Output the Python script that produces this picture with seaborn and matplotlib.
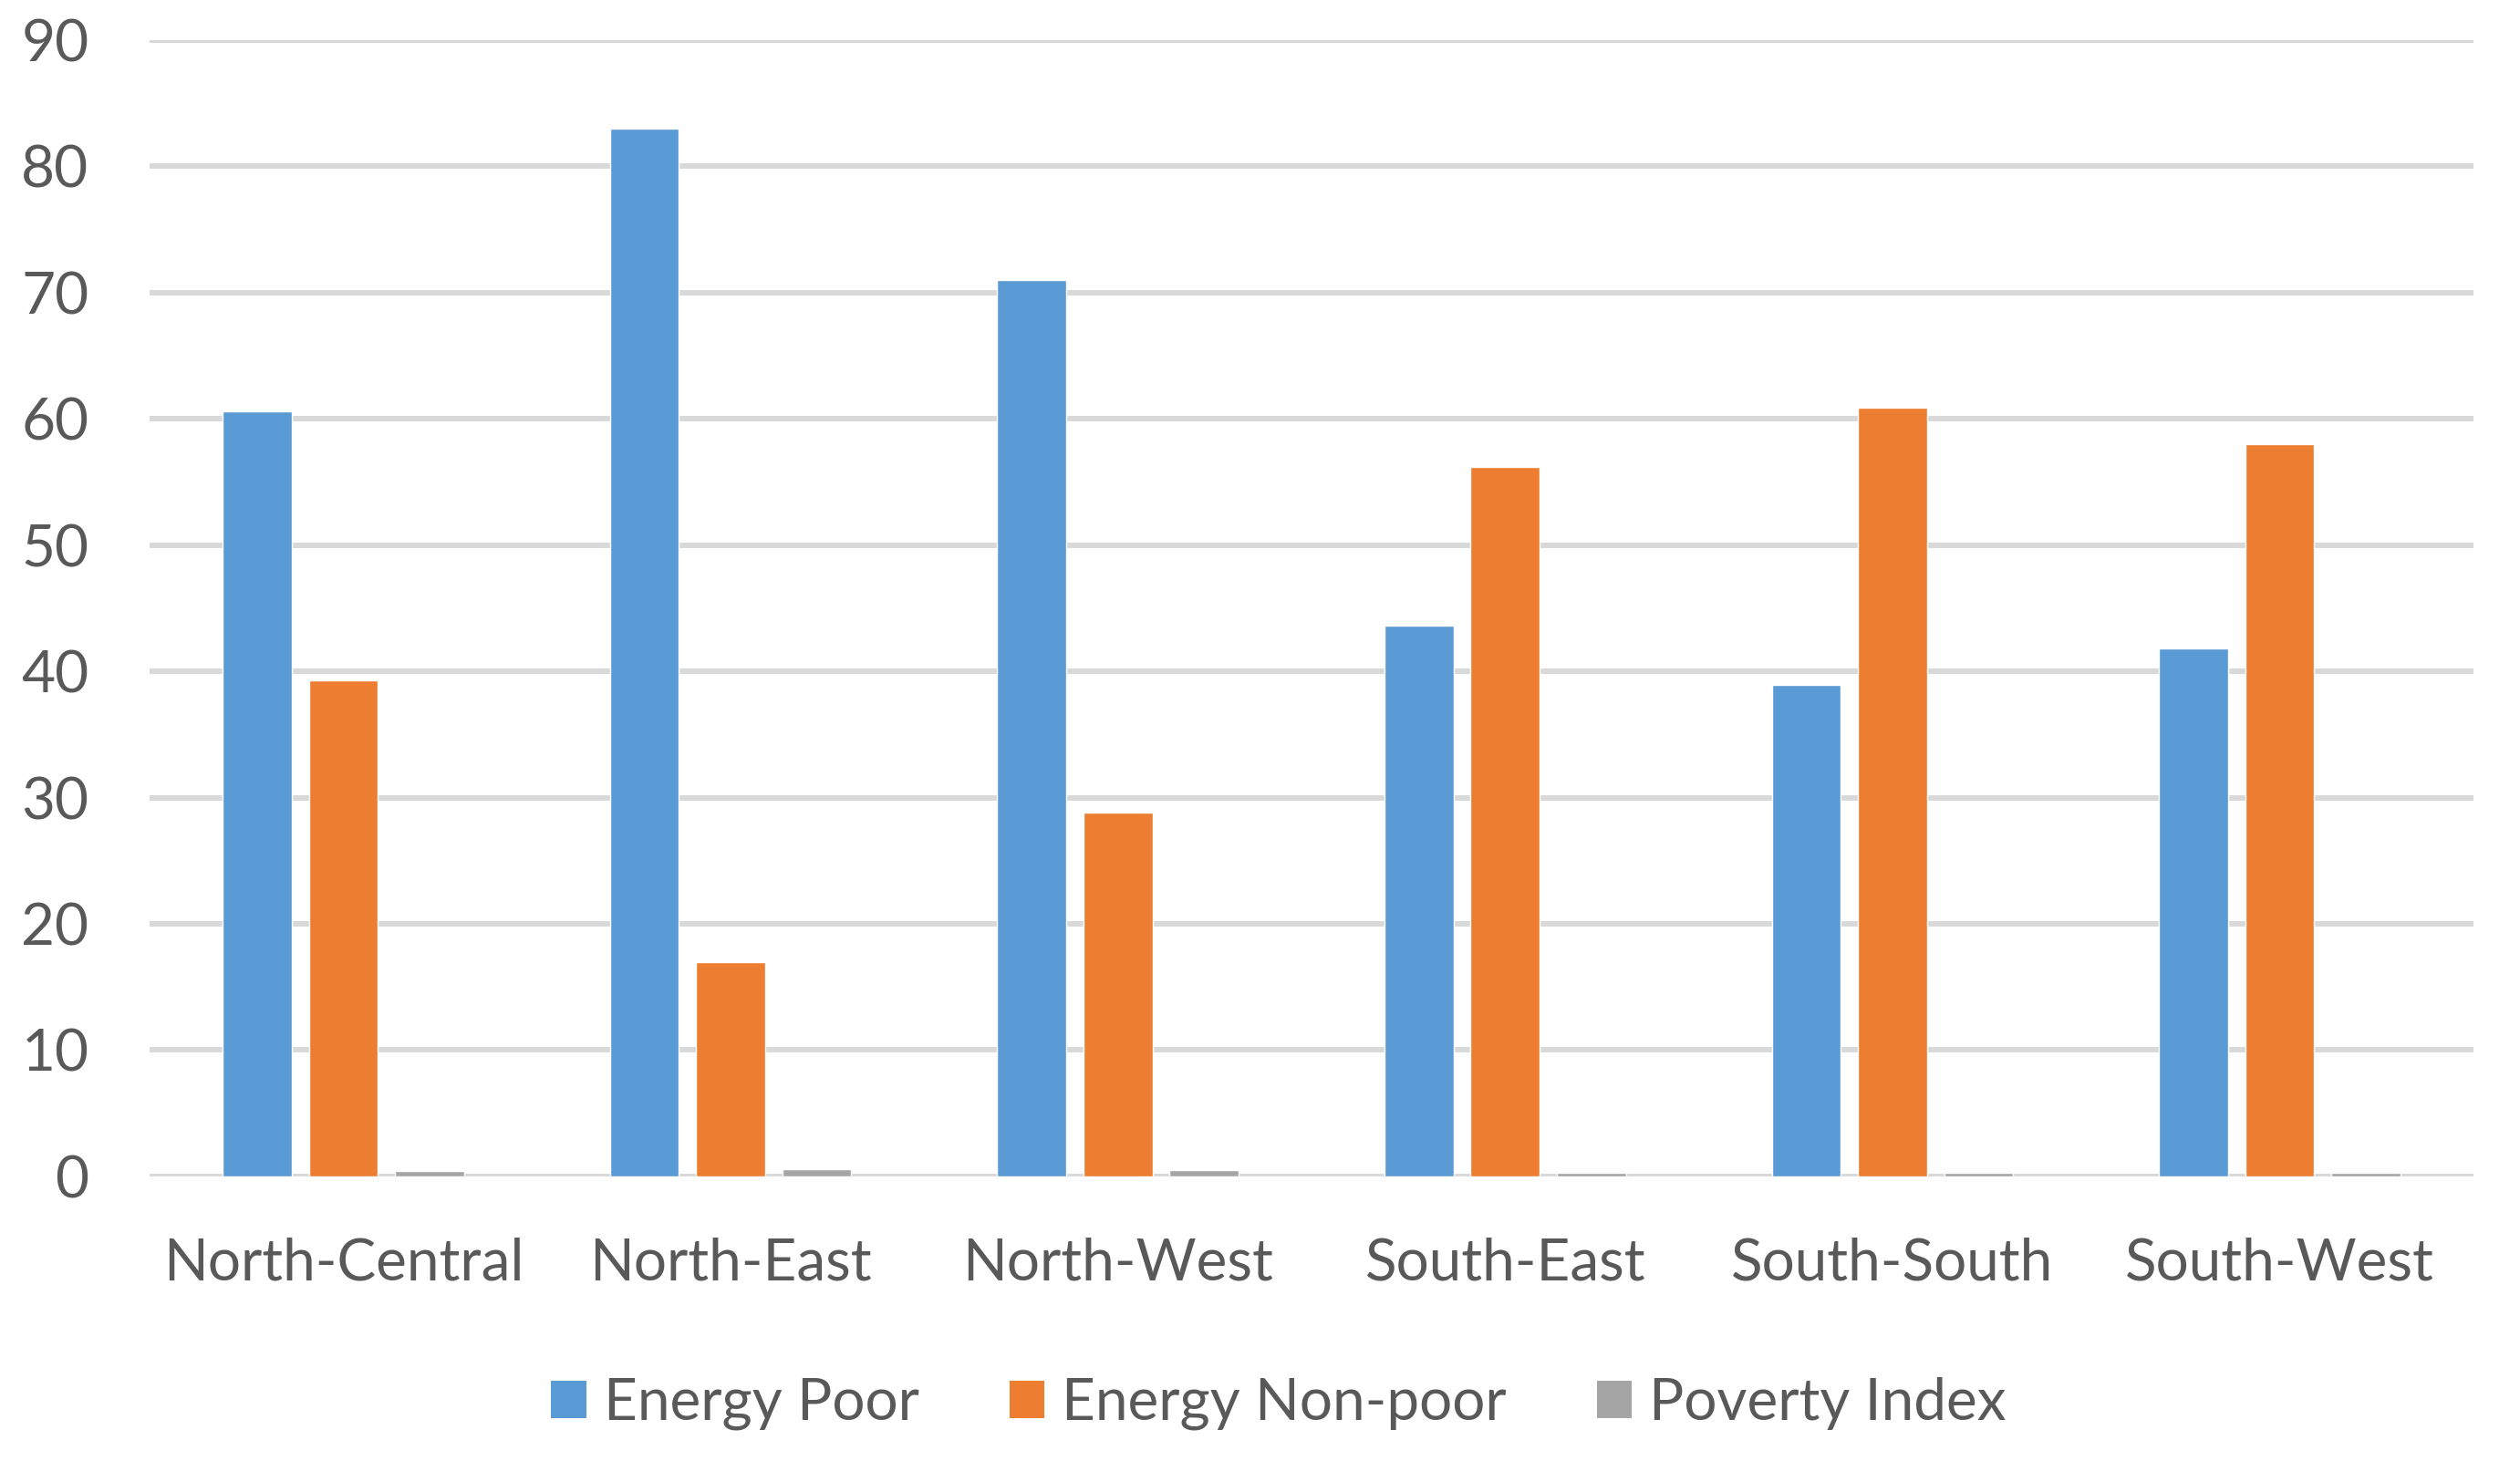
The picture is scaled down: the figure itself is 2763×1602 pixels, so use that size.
import matplotlib
matplotlib.use("Agg")
import matplotlib.pyplot as plt
import seaborn as sns
import pandas as pd
from matplotlib.patches import Patch

regions = ["North-Central", "North-East", "North-West", "South-East", "South-South", "South-West"]
energy_poor = [60.6, 83.0, 71.0, 43.6, 38.9, 41.8]
energy_non_poor = [39.3, 17.0, 28.8, 56.2, 60.9, 58.0]
poverty_index = [0.4, 0.6, 0.5, 0.3, 0.25, 0.3]
series_names = ["Energy Poor", "Energy Non-poor", "Poverty Index"]
colors = ["#5B9BD5", "#ED7D31", "#A5A5A5"]
yticks = [0, 10, 20, 30, 40, 50, 60, 70, 80, 90]

rows = []
for name, vals in zip(series_names, [energy_poor, energy_non_poor, poverty_index]):
    for r, v in zip(regions, vals):
        rows.append({"Region": r, "Series": name, "Value": v})
df = pd.DataFrame(rows)

sns.set_theme(style="white")
plt.rcParams['font.family'] = ['Lato', 'DejaVu Sans']
text_color = "#595959"

fig = plt.figure(figsize=(27.63, 16.02), dpi=100)
ax = fig.add_axes([0.0594, 0.1948, 0.9221, 0.7777])

sns.barplot(data=df, x="Region", y="Value", hue="Series", order=regions,
            hue_order=series_names, palette=colors, width=0.668, gap=0.2,
            saturation=1, errorbar=None, ax=ax, legend=False, zorder=3)

ax.set_ylim(0, 90)
ax.set_xlim(-0.5, 5.5)
ax.set_yticks(yticks)
ax.set_yticklabels([str(t) for t in yticks])
ax.yaxis.grid(True, color="#D9D9D9", linewidth=4.3, zorder=0)
ax.xaxis.grid(False)
ax.set_axisbelow(True)
for s in ax.spines.values():
    s.set_visible(False)
ax.set_xlabel("")
ax.set_ylabel("")
ax.tick_params(axis="y", length=0, pad=48, labelsize=46, labelcolor=text_color)
ax.tick_params(axis="x", length=0, pad=48, labelsize=46, labelcolor=text_color)

handles = [Patch(facecolor=c, edgecolor="none") for c in colors]
fig.legend(handles, series_names, loc="center", bbox_to_anchor=(0.5074, 1 - 1539 / 1602),
           ncol=3, frameon=False, fontsize=46, labelcolor=text_color,
           handlelength=0.6, handleheight=0.6, handletextpad=0.3, columnspacing=1.55)

fig.savefig("out.png", dpi=100, facecolor="white")
